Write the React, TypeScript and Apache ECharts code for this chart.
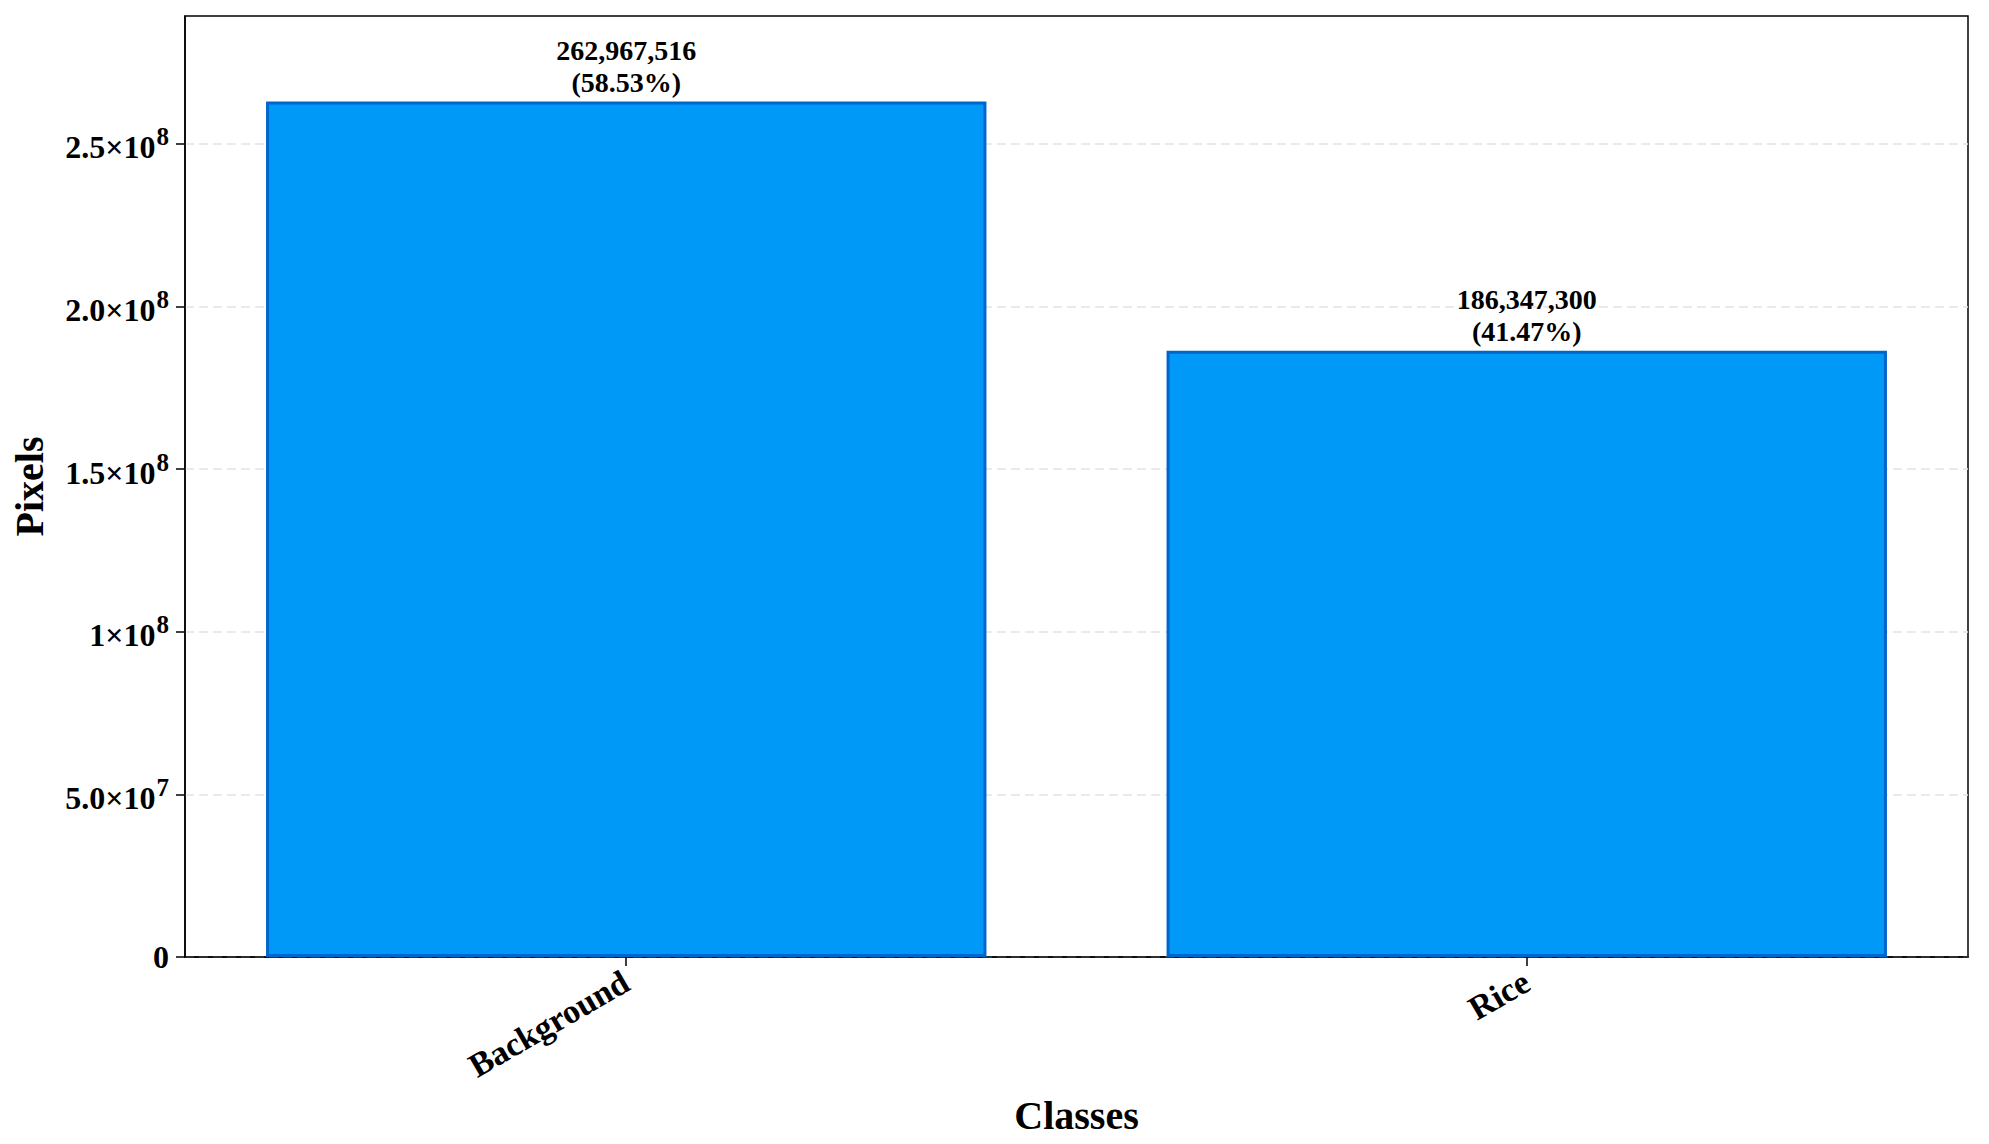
import React, { useEffect, useRef } from "react";
import * as echarts from "echarts";

const categories = ["Background", "Rice"];
const pixelCounts = [262967516, 186347300];
const yTickValues = [0, 50000000, 100000000, 150000000, 200000000, 250000000];
const yTickLabels = ["0", "5.0×10^7", "1×10^8", "1.5×10^8", "2.0×10^8", "2.5×10^8"];
const yMax = 289264268;
const xMin = -0.49;
const xMax = 1.49;

const FONT = "'Liberation Serif', 'Times New Roman', serif";

export default function App() {
  const ref = useRef<HTMLDivElement>(null);
  useEffect(() => {
    document.body.style.margin = "0";
    const chart = echarts.init(ref.current!, null, { renderer: "svg" });
    const total = pixelCounts.reduce((a, b) => a + b, 0);
    const gridLeft = 185;
    const gridRight = 21;
    const plotW = 1989 - gridLeft - gridRight;
    const barW = (0.8 * plotW) / (xMax - xMin);
    const fmtY = (v: number) => {
      const i = yTickValues.indexOf(v);
      if (i < 0) return "";
      const s = yTickLabels[i];
      const parts = s.split("^");
      if (parts.length === 1) return "{m|" + s + "}";
      return "{m|" + parts[0] + "}{sup|" + parts[1] + "}";
    };
    chart.setOption({
      animation: false,
      backgroundColor: "#fff",
      textStyle: { fontFamily: FONT },
      grid: {
        left: gridLeft,
        right: gridRight,
        top: 16,
        bottom: 187,
        show: true,
        borderColor: "#000",
        borderWidth: 1.5,
        backgroundColor: "transparent",
      },
      xAxis: {
        type: "value",
        min: xMin,
        max: xMax,
        name: "Classes",
        nameLocation: "middle",
        nameGap: 138,
        nameTextStyle: { fontFamily: FONT, fontWeight: "bold", fontSize: 40, color: "#000" },
        axisLine: { show: true, onZero: false, lineStyle: { color: "#000", width: 1.5 } },
        axisTick: { show: true, customValues: [0, 1], length: 9, lineStyle: { color: "#000", width: 1.5 } },
        axisLabel: {
          customValues: [0, 1],
          rotate: 30,
          margin: 22,
          fontFamily: FONT,
          fontWeight: "bold",
          fontSize: 34,
          color: "#000",
          formatter: (v: number) => categories[Math.round(v)] ?? "",
        },
        splitLine: { show: false },
      },
      yAxis: {
        type: "value",
        min: 0,
        max: yMax,
        name: "Pixels",
        nameLocation: "middle",
        nameGap: 136,
        nameTextStyle: { fontFamily: FONT, fontWeight: "bold", fontSize: 40, color: "#000" },
        axisLine: { show: true, onZero: false, lineStyle: { color: "#000", width: 1.5 } },
        axisTick: { show: true, customValues: yTickValues, length: 9, lineStyle: { color: "#000", width: 1.5 } },
        axisLabel: {
          customValues: yTickValues,
          margin: 16,
          formatter: fmtY,
          rich: {
            m: { fontFamily: FONT, fontWeight: "bold", fontSize: 32, color: "#000", verticalAlign: "bottom" },
            sup: { fontFamily: FONT, fontWeight: "bold", fontSize: 25, color: "#000", verticalAlign: "bottom", padding: [0, 0, 14, 1] },
          },
        },
        splitLine: { show: true, lineStyle: { color: "#e3e3e3", type: [9, 5], width: 1.5 } },
      },
      series: [
        {
          type: "bar",
          barWidth: barW,
          data: pixelCounts.map((v, i) => [i, v]),
          itemStyle: { color: "#0099F8", borderColor: "#0066CC", borderWidth: 3 },
          label: {
            show: true,
            position: "top",
            distance: 3,
            fontFamily: FONT,
            fontWeight: "bold",
            fontSize: 28,
            lineHeight: 32,
            color: "#000",
            align: "center",
            formatter: (p: any) => {
              const v = p.value[1] as number;
              return v.toLocaleString("en-US") + "\n(" + ((v / total) * 100).toFixed(2) + "%)";
            },
          },
        },
      ],
    });
    return () => chart.dispose();
  }, []);
  return <div ref={ref} style={{ position: "absolute", left: 0, top: 0, width: 1989, height: 1144 }} />;
}
